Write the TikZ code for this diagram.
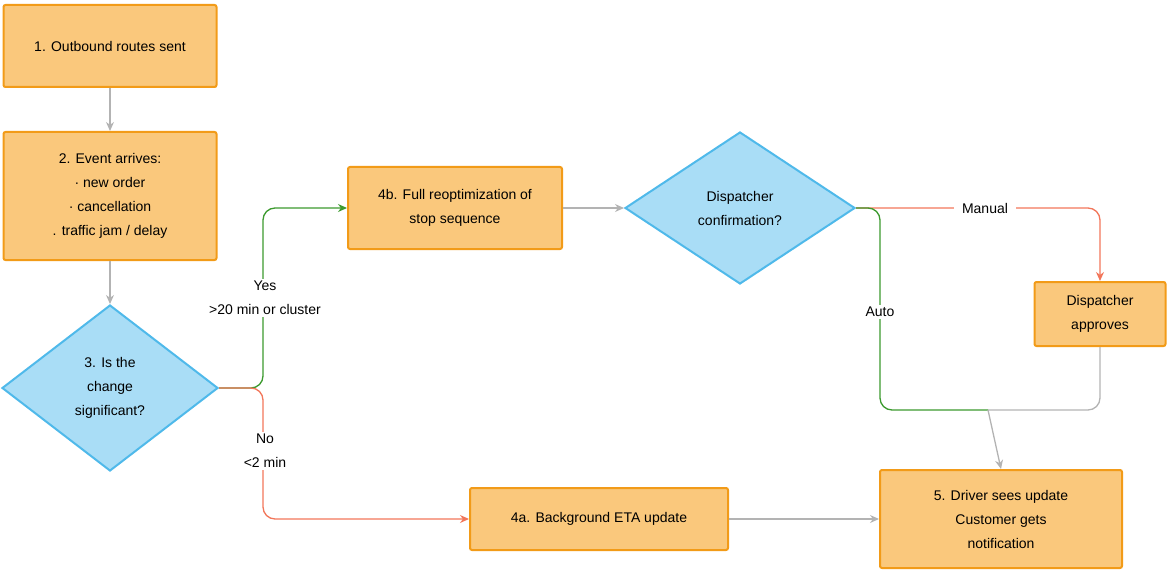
\documentclass[tikz,border=0pt]{standalone}
\usepackage{fontspec}
\setmainfont{Liberation Sans}
\usetikzlibrary{shapes.geometric,arrows.meta}
\definecolor{ofill}{HTML}{FAC87C}
\definecolor{oline}{HTML}{F29B18}
\definecolor{bfill}{HTML}{A9DDF6}
\definecolor{bline}{HTML}{4FB9EA}
\definecolor{gr}{HTML}{B3B3B3}
\definecolor{gn}{HTML}{3C9A2E}
\definecolor{rd}{HTML}{F2765A}
\begin{document}
\begin{tikzpicture}[x=1pt,y=-1pt,
  box/.style={draw=oline,fill=ofill,line width=2pt,rounded corners=2pt,align=center,inner sep=0pt,font=\fontsize{14}{24}\selectfont},
  dia/.style={diamond,draw=bline,fill=bfill,line width=2pt,align=center,inner sep=0pt,font=\fontsize{14}{24}\selectfont},
  arr/.style={line width=1.3pt,rounded corners=12pt,-{Stealth[length=9pt,width=8pt]}},
  lab/.style={font=\fontsize{14}{24}\selectfont,align=center,fill=white,inner sep=2pt}]
\useasboundingbox (0,0) rectangle (1170,575);
\node[box,minimum width=213,minimum height=82] (n1) at (110,46) {1. Outbound routes sent};
\node[box,minimum width=213,minimum height=128] (n2) at (110,196) {2. Event arrives:\\· new order\\· cancellation\\. traffic jam / delay};
\node[dia,minimum width=216,minimum height=166] (n3) at (110,388) {3. Is the\\change\\significant?};
\node[box,minimum width=214,minimum height=82] (n4b) at (455,208) {4b. Full reoptimization of\\stop sequence};
\node[dia,minimum width=230,minimum height=152] (d) at (740,208) {Dispatcher\\confirmation?};
\node[box,minimum width=131,minimum height=64,font=\fontsize{14}{24}\selectfont] (ap) at (1100,314) {Dispatcher\\approves};
\node[box,minimum width=258,minimum height=62] (n4a) at (599,519) {4a. Background ETA update};
\node[box,minimum width=242,minimum height=98] (n5) at (1001,519) {5. Driver sees update\\Customer gets\\notification};
\coordinate (m) at (988,410);
\draw[arr,gr] (n1) -- (n2);
\draw[arr,gr] (n2) -- (n3);
\draw[arr,gn] (n3.east) -- (263,388) -- (263,208) -- (n4b.west);
\draw[arr,rd] (n3.east) -- (263,388) -- (263,519) -- (n4a.west);
\node[lab] at (265,298) {Yes\\>20 min or cluster};
\node[lab] at (265,451) {No\\<2 min};
\draw[arr,gr] (n4b) -- (d);
\draw[arr,rd] (d.east) -- (1100,208) -- (ap.north);
\node[lab,inner xsep=8pt] at (985,208) {Manual};
\draw[line width=1.3pt,gn,rounded corners=12pt] (d.east) -- (880,208) -- (880,410) -- (m);
\draw[line width=1.3pt,gr,rounded corners=12pt] (ap.south) -- (1100,410) -- (m);
\draw[arr,gr] (m) -- (n5.north);
\node[lab] at (880,312) {Auto};
\draw[arr,gr] (n4a) -- (n5);
\end{tikzpicture}
\end{document}
